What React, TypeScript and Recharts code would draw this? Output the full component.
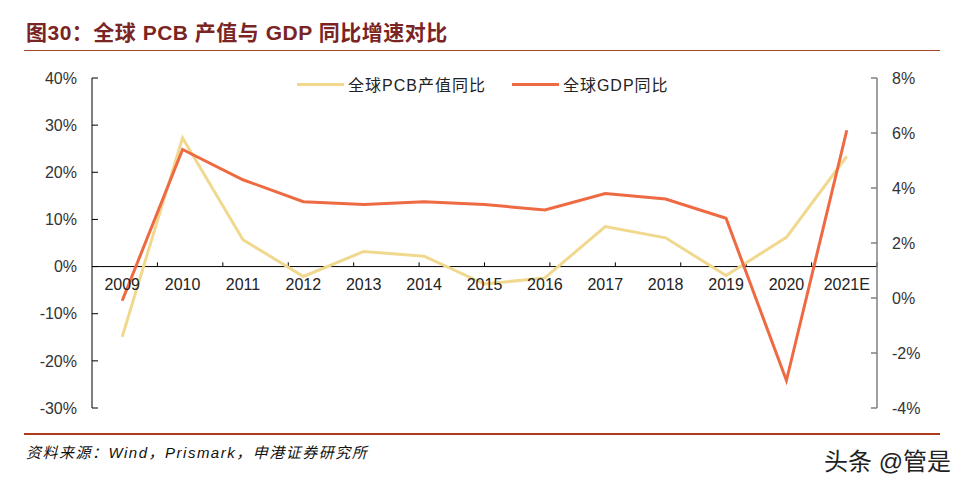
import { LineChart, Line, XAxis, YAxis, ReferenceLine, ReferenceDot, Legend } from 'recharts'

const years = ['2009', '2010', '2011', '2012', '2013', '2014', '2015', '2016', '2017', '2018', '2019', '2020', '2021E']
const pcbYoY = [-14.9, 27.3, 5.7, -2.1, 3.2, 2.2, -3.7, -2.4, 8.5, 6.1, -1.9, 6.2, 23.4]
const gdpYoY = [-0.1, 5.4, 4.3, 3.5, 3.4, 3.5, 3.4, 3.2, 3.8, 3.6, 2.9, -3.0, 6.1]
const leftTicks = [-30, -20, -10, 0, 10, 20, 30, 40]
const rightTicks = [-4, -2, 0, 2, 4, 6, 8]
const pcbName = '全球PCB产值同比'
const gdpName = '全球GDP同比'
const legendOrder = [pcbName, gdpName]

const data = years.map((year, i) => ({ year, pcb: pcbYoY[i], gdp: gdpYoY[i] }))
// boundaries between the year bands, where the small upward ticks sit
const edges = years.slice(1).map((_, i) => i + 1)

const FONT = "'Liberation Sans', 'Noto Sans CJK SC', Arial, sans-serif"
const PCB_COLOR = '#f0d98e'
const GDP_COLOR = '#ee6a43'

const LegendContent = ({ payload }: any) => {
  const items = [...(payload || [])].sort((a: any, b: any) => legendOrder.indexOf(a.value) - legendOrder.indexOf(b.value))
  return (
    <div style={{ display: 'flex', alignItems: 'center', fontFamily: FONT, fontSize: 16, letterSpacing: 1, color: '#222' }}>
      {items.map((p: any, i: number) => (
        <div key={p.value} style={{ display: 'flex', alignItems: 'center', marginLeft: i ? 26 : 0 }}>
          <span style={{ display: 'inline-block', width: 47, height: 3, background: p.color, marginRight: 4 }} />
          <span>{p.value}</span>
        </div>
      ))}
    </div>
  )
}

export default function App() {
  return (
    <div style={{ position: 'absolute', left: 0, top: 0, width: 960, height: 489, background: '#fff', fontFamily: FONT, overflow: 'hidden' }}>
      <div style={{ position: 'absolute', left: 26, top: 20, fontSize: 21, lineHeight: '26px', fontWeight: 700, color: '#7a2424', letterSpacing: 0.5, whiteSpace: 'nowrap' }}>
        图30：全球 PCB 产值与 GDP 同比增速对比
      </div>
      <div style={{ position: 'absolute', left: 24, top: 50, width: 916, height: 1, background: '#a3462b' }} />

      <LineChart width={960} height={489} data={data} margin={{ top: 78, right: 23, bottom: 81, left: 32 }} style={{ position: 'absolute', left: 0, top: 0 }}>
        <XAxis xAxisId="cat" dataKey="year" type="category" scale="band" hide />
        <XAxis xAxisId="edge" type="number" domain={[0, years.length]} hide />
        <YAxis yAxisId="left" domain={[-30, 40]} ticks={leftTicks} interval={0} width={60}
          tickFormatter={v => `${v}%`} axisLine={{ stroke: '#000' }} tickLine={{ stroke: '#000' }}
          tickSize={-6} tickMargin={21} tick={{ fill: '#333', fontSize: 16 }} />
        <YAxis yAxisId="right" orientation="right" domain={[-4, 8]} ticks={rightTicks} interval={0} width={60}
          tickFormatter={v => `${v}%`} axisLine={{ stroke: '#808080', strokeWidth: 1.5 }} tickLine={{ stroke: '#808080', strokeWidth: 1.5 }}
          tickSize={-6} tickMargin={21} tick={{ fill: '#333', fontSize: 16 }} />
        <ReferenceLine xAxisId="cat" yAxisId="left" y={0} stroke="#000" strokeWidth={1} />
        {edges.map(e => (
          <ReferenceLine key={e} xAxisId="edge" yAxisId="left" stroke="#000" strokeWidth={1}
            segment={[{ x: e, y: 0 }, { x: e, y: 0.9 }]} />
        ))}
        {years.map(y => (
          <ReferenceDot key={y} xAxisId="cat" yAxisId="left" x={y} y={0} r={0} stroke="none" fill="none"
            label={{ value: y, position: 'bottom', offset: 12, fill: '#222', fontSize: 16 }} />
        ))}
        <Legend layout="vertical" align="center" verticalAlign="middle" content={<LegendContent />}
          wrapperStyle={{ left: 297, top: 72, width: 420 }} />
        <Line xAxisId="cat" yAxisId="left" dataKey="pcb" name={pcbName} stroke={PCB_COLOR} strokeWidth={3} dot={false} isAnimationActive={false} />
        <Line xAxisId="cat" yAxisId="right" dataKey="gdp" name={gdpName} stroke={GDP_COLOR} strokeWidth={3} dot={false} isAnimationActive={false} />
      </LineChart>

      <div style={{ position: 'absolute', left: 24, top: 433, width: 916, height: 2, background: '#b0391c' }} />
      <div style={{ position: 'absolute', left: 26, top: 443, fontSize: 15, lineHeight: '20px', fontStyle: 'italic', letterSpacing: 1.5, color: '#111', whiteSpace: 'nowrap' }}>
        资料来源：Wind，Prismark，申港证券研究所
      </div>
      <div style={{ position: 'absolute', left: 824, top: 447, fontSize: 24, lineHeight: '30px', color: '#222', whiteSpace: 'nowrap', textShadow: '0 0 2px #fff' }}>
        头条 @管是
      </div>
    </div>
  )
}
